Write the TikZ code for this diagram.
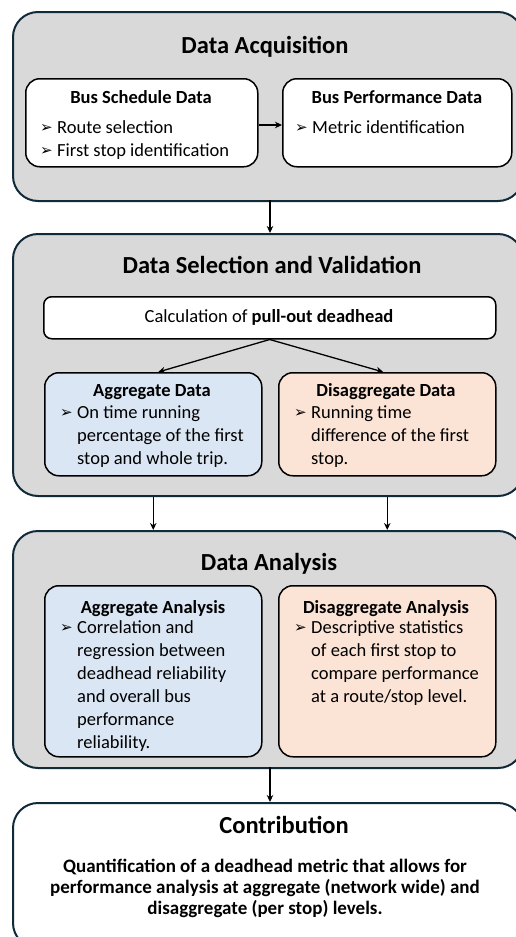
\documentclass[tikz,border=0pt]{standalone}
\usepackage{fontspec}
\setmainfont{Carlito}
\newfontfamily\dvs{DejaVu Sans}
\usetikzlibrary{arrows.meta,calc}
\definecolor{grayfill}{RGB}{217,217,217}
\definecolor{bluefill}{RGB}{218,230,243}
\definecolor{orfill}{RGB}{251,227,214}
\definecolor{outline}{RGB}{16,42,58}
\newcommand{\bul}{\makebox[17pt][l]{\raisebox{0.3pt}{\dvs\fontsize{15}{15}\selectfont ➢}}}
\newcommand{\hng}{\hspace*{17pt}}
\begin{document}
\begin{tikzpicture}[x=1pt,y=-1pt,
  outer/.style={draw=outline, line width=2pt, rounded corners=25pt, fill=grayfill, anchor=north west, inner sep=0pt},
  inner/.style={draw=black, line width=1.5pt, rounded corners=14pt, fill=white, anchor=north west, inner sep=0pt},
  title/.style={anchor=base, inner sep=0pt, font=\fontsize{24.5}{28}\selectfont\bfseries},
  head/.style={anchor=base, inner sep=0pt, font=\fontsize{18.5}{22}\selectfont\bfseries},
  body/.style={anchor=north west, inner sep=0pt, align=left, font=\fontsize{18.5}{23}\selectfont},
  arr/.style={-{Stealth[length=7pt,width=6.5pt]}, line width=1.3pt}]
\useasboundingbox (0,0) rectangle (516,937);
\clip (0,0) rectangle (516,937);

% ---------- Data Acquisition ----------
\node[outer, minimum width=510pt, minimum height=189pt] (A) at (12,11) {};
\node[title] (At) at (265,53) {Data Acquisition};
\node[inner, minimum width=232pt, minimum height=88pt] (bs) at (25,78) {};
\node[inner, minimum width=229pt, minimum height=88pt] (bp) at (282,78) {};
\node[head] (bsh) at (141,103) {Bus Schedule Data};
\node[body] (bsb) at (40,116.9) {\strut\bul Route selection\\\bul First stop identification};
\node[head] (bph) at (397,103) {Bus Performance Data};
\node[body] (bpb) at (295,116.9) {\strut\bul Metric identification};
\draw[arr] (bs.east |- 0,125) -- (bp.west |- 0,125);

% ---------- Data Selection and Validation ----------
\node[outer, minimum width=510pt, minimum height=262pt] (B) at (12,233) {};
\node[title] (Bt) at (272,273) {Data Selection and Validation};
\node[inner, rounded corners=8pt, minimum width=452pt, minimum height=42pt] (calc) at (43,296) {};
\node[anchor=base, inner sep=0pt, font=\fontsize{18.5}{23}\selectfont] (calct) at (269,322.5) {Calculation of \textbf{pull-out deadhead}};
\node[inner, fill=bluefill, minimum width=217pt, minimum height=103pt] (agd) at (44,372) {};
\node[inner, fill=orfill, minimum width=217pt, minimum height=103pt] (dgd) at (278,372) {};
\node[head] (agdh) at (152,396) {Aggregate Data};
\node[body] (agdb) at (60,401.9) {\strut\bul On time running\\\hng percentage of the first\\\hng stop and whole trip.};
\node[head] (dgdh) at (386,396) {Disaggregate Data};
\node[body] (dgdb) at (294,401.9) {\strut\bul Running time\\\hng difference of the first\\\hng stop.};
\draw[arr] (calc.south) -- ($(agd.north)+(5,0)$);
\draw[arr] (calc.south) -- ($(dgd.north)+(-4,0)$);

% ---------- Data Analysis ----------
\node[outer, minimum width=510pt, minimum height=237pt] (C) at (12,530) {};
\node[title] (Ct) at (269,570) {Data Analysis};
\node[inner, fill=bluefill, minimum width=217pt, minimum height=171pt] (aa) at (44,585) {};
\node[inner, fill=orfill, minimum width=217pt, minimum height=171pt] (da) at (278,585) {};
\node[head] (aah) at (153,613) {Aggregate Analysis};
\node[body] (aab) at (60,616.9) {\strut\bul Correlation and\\\hng regression between\\\hng deadhead reliability\\\hng and overall bus\\\hng performance\\\hng reliability.};
\node[head] (dah) at (386,613) {Disaggregate Analysis};
\node[body] (dab) at (294,616.9) {\strut\bul Descriptive statistics\\\hng of each first stop to\\\hng compare performance\\\hng at a route/stop level.};

% ---------- Contribution ----------
\node[outer, fill=white, minimum width=510pt, minimum height=145pt] (D) at (12,802) {};
\node[title] (Dt) at (284,833) {Contribution};
\node[anchor=north, inner sep=0pt, align=center, font=\fontsize{19}{21}\selectfont\bfseries] (Db) at (265,857.3)
  {\strut Quantification of a deadhead metric that allows for\\performance analysis at aggregate (network wide) and\\disaggregate (per stop) levels.};

% ---------- connectors between stages ----------
\draw[arr] (270,200) coordinate (a1) -- (a1 |- B.north);
\draw[arr] (agd.south |- B.south) -- (agd.south |- C.north);
\draw[arr] (dgd.south |- B.south) -- (dgd.south |- C.north);
\draw[arr] (270,767) coordinate (c1) -- (c1 |- D.north);
\end{tikzpicture}
\end{document}
